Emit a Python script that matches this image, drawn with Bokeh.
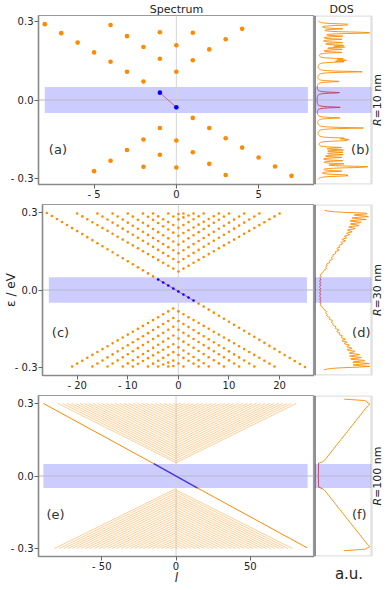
import numpy as np
from bokeh.plotting import figure
from bokeh.layouts import column, row
from bokeh.models import (Label, Span, BoxAnnotation, CustomJSTickFormatter,
                          FixedTicker, Range1d, LinearAxis)
from bokeh.embed import file_html
from bokeh.resources import INLINE

# ---------------------------------------------------------------------------
# values
# ---------------------------------------------------------------------------
gap_E = [-0.05, 0.05]            # shaded gap (eV)

# (a) R = 10 nm : every level (l, E / eV)
a_l = [-8, -7, -6, -5, -4, -3, -2, -1, 0, 1, 2, 3, 4, 5, 6, 7,
       -4, -3, -2, -1, 0, 1, 2, 3, 4,
       -1, 0, 1,
       -5, -4, -3, -2, -1, 0, 1, 2, 3,
       -2, -1, 0]
a_E = [0.290, 0.2555, 0.2195, 0.182, 0.146, 0.108, 0.071, 0.028,
       -0.028, -0.0685, -0.107, -0.146, -0.182, -0.2195, -0.254, -0.290,
       0.2865, 0.244, 0.2026, 0.1575, 0.108, 0.152, 0.1935, 0.232, 0.272,
       0.259, 0.209, 0.257,
       -0.272, -0.232, -0.191, -0.151, -0.107, -0.155, -0.200, -0.244, -0.2865,
       -0.2555, -0.209, -0.258]
a_is_edge = [1] * 16 + [0] * 24
a_band_l = [-8.0, 8.0]

# (c) R = 30 nm : branches of levels at integer l (end l, E at l = centre)
c_edge_l = [-26, 25]
c_edge_E = [0.300, -0.300]
c_up_left = [-20, -16, -13, -10, -7, -5, -2, 0]
c_up_right = [20, 16, 13, 10, 8, 5, 3, 1]
c_up_E0 = [0.072, 0.109, 0.143, 0.177, 0.211, 0.242, 0.275, 0.296]
c_up_Eend = 0.298
c_lo_left = [-21, -17, -14, -11, -9, -6, -4, -2]
c_lo_right = [19, 15, 12, 9, 6, 4, 1, -1]
c_lo_E0 = [-0.072, -0.109, -0.143, -0.177, -0.211, -0.242, -0.275, -0.296]
c_lo_Eend = -0.298
c_band_l = [-25.6, 25.4]

# (e) R = 100 nm : branches drawn as lines
e_edge_l = [-89.3, -15.0, 14.5, 88.2]
e_edge_E = [0.300, 0.051, -0.050, -0.297]
e_up_left = [-79.5, -76.3, -73.3, -70.5, -67.6, -64.7, -61.8, -58.9, -56.0,
             -53.0, -50.0, -47.0, -44.0, -41.0, -38.0, -35.0, -32.0, -29.0,
             -26.0, -23.0, -20.0, -17.0, -14.0, -11.0, -8.0, -5.0, -2.0]
e_up_right = [80.9, 77.6, 74.6, 71.7, 68.8, 65.9, 63.0, 60.0, 57.0,
              54.0, 51.0, 48.0, 45.0, 42.0, 39.0, 36.0, 33.0, 30.0,
              27.0, 24.0, 21.0, 18.0, 15.0, 12.0, 9.0, 6.0, 3.0]
e_up_E0 = [0.055, 0.063, 0.073, 0.0815, 0.090, 0.099, 0.108, 0.117, 0.126,
           0.136, 0.145, 0.154, 0.164, 0.173, 0.182, 0.1915, 0.201, 0.210,
           0.219, 0.229, 0.238, 0.247, 0.257, 0.266, 0.275, 0.2845, 0.294]
e_lo_left = [-81.9, -78.6, -75.6, -72.7, -69.8, -66.9, -64.0, -61.0, -58.0,
             -55.0, -52.0, -49.0, -46.0, -43.0, -40.0, -37.0, -34.0, -31.0,
             -28.0, -25.0, -22.0, -19.0, -16.0, -13.0, -10.0, -7.0, -4.0]
e_lo_right = [78.5, 75.3, 72.3, 69.5, 66.6, 63.7, 60.8, 57.9, 55.0,
              52.0, 49.0, 46.0, 43.0, 40.0, 37.0, 34.0, 31.0, 28.0,
              25.0, 22.0, 19.0, 16.0, 13.0, 10.0, 7.0, 4.0, 1.0]
e_lo_E0 = [-v for v in e_up_E0]
e_Eend = 0.300
e_band_l = [-89.3, 88.6]

# (f) DOS for R = 100 nm (E, a.u.)
f_E = [0.318, 0.312, 0.297, 0.290, 0.064, 0.058, 0.053, 0.0,
       -0.046, -0.052, -0.058, -0.284, -0.292, -0.303, -0.309]
f_D = [0.50, 0.88, 0.97, 0.93, 0.14, 0.10, 0.035, 0.03,
       0.035, 0.10, 0.14, 0.93, 0.97, 0.88, 0.50]

radii = ["10", "30", "100"]
panel_tags = ["(a)", "(b)", "(c)", "(d)", "(e)", "(f)"]

# ---------------------------------------------------------------------------
FONT = "DejaVu Sans"
ORANGE = "#ff8a00"
BLUE = "#0000ff"
PINK = "#d8608a"
GAPDOS = "#c0405a"
GRID = "#d4d4d4"
TXT = "#222222"
FRAME = "#9a9a9a"

XFMT = CustomJSTickFormatter(code='return tick < 0 ? "- " + Math.abs(tick) : "" + tick;')
YFMT = CustomJSTickFormatter(code='return tick < 0 ? "- " + Math.abs(tick).toFixed(1) : tick.toFixed(1);')

DOS_X = (-0.04, 1.0)      # DOS box
DOS_XR = (-0.04, 1.219)   # frame incl. room for the R label
W_SPEC, W_DOS = 314, 69
LEFT = 38


def branch(left, right, centre, e_end, e_min):
    ls, es = [], []
    for L, R, E0 in zip(left, right, e_min):
        xs, ys = [L, centre, R], [e_end, E0, e_end]
        if R == centre:
            xs, ys = xs[:2], ys[:2]
        if L == centre:
            xs, ys = xs[1:], ys[1:]
        li = np.arange(L, R + 1)
        ls.extend(li.tolist())
        es.extend(np.interp(li, xs, ys).tolist())
    return ls, es


def style_title(p, text):
    p.title.text = text
    p.title.align = "center"
    p.title.text_font = FONT
    p.title.text_font_size = "11px"
    p.title.text_font_style = "normal"
    p.title.text_color = TXT
    p.title.standoff = 0
    p.title.offset = 0


def spec_fig(xr, yr, h, bt, bb, xticks, band_l, title=None):
    p = figure(width=W_SPEC, height=h, x_range=Range1d(*xr), y_range=Range1d(*yr),
               output_backend="svg", toolbar_location=None, title=title,
               min_border_left=LEFT, min_border_right=0,
               min_border_top=bt, min_border_bottom=bb)
    p.grid.visible = False
    p.outline_line_color = FRAME
    p.outline_line_width = 1.2
    for ax in (p.xaxis[0], p.yaxis[0]):
        ax.axis_line_color = "#8a8a8a"
        ax.axis_line_width = 1.5
        ax.major_tick_line_color = "#666666"
        ax.major_tick_out = 4
        ax.major_tick_in = 0
        ax.minor_tick_line_color = None
        ax.major_label_text_font = FONT
        ax.major_label_text_font_size = "10px"
        ax.major_label_text_color = TXT
        ax.major_label_standoff = 1
        ax.axis_label_text_font = FONT
        ax.axis_label_text_color = TXT
    p.xaxis.major_label_standoff = 0
    p.xaxis.ticker = FixedTicker(ticks=xticks)
    p.xaxis.formatter = XFMT
    p.yaxis.ticker = FixedTicker(ticks=[-0.3, 0.0, 0.3])
    p.yaxis.formatter = YFMT
    p.add_layout(BoxAnnotation(left=band_l[0], right=band_l[1], bottom=gap_E[0], top=gap_E[1],
                               fill_color=BLUE, fill_alpha=0.2, line_color=None, level="underlay"))
    p.add_layout(Span(location=0, dimension="height", line_color=GRID, line_width=1, level="underlay"))
    p.add_layout(Span(location=0, dimension="width", line_color="#b8b8c8", line_width=1, level="underlay"))
    return p


def dos_fig(yr, h, bt, bb, radius, title=None):
    p = figure(width=W_DOS, height=h, x_range=Range1d(*DOS_XR), y_range=Range1d(*yr),
               output_backend="svg", toolbar_location=None, title=title,
               x_axis_location=None, y_axis_location=None,
               min_border_left=0, min_border_right=0,
               min_border_top=bt, min_border_bottom=bb)
    p.grid.visible = False
    p.outline_line_color = None
    p.add_layout(BoxAnnotation(left=DOS_X[0], right=DOS_X[1], bottom=gap_E[0], top=gap_E[1],
                               fill_color=BLUE, fill_alpha=0.2, line_color=None, level="underlay"))
    p.segment(x0=[DOS_X[0]], y0=[0], x1=[DOS_X[1]], y1=[0], line_color="#b8b8c8", line_width=1)
    p.add_layout(BoxAnnotation(left=DOS_X[0], right=DOS_X[1], fill_color=None,
                               line_color=FRAME, line_width=2.4))
    p.add_layout(Span(location=DOS_X[0], dimension="height", line_color="#333333", line_width=2.0))
    # R label, reading upwards: italic "R" then "=.. nm"
    rest = "=" + radius + " nm"
    w_rest = 0.838 + 0.636 * len(radius) + 0.318 + 0.634 + 0.974
    w_R = 0.684
    off = (-(w_R + w_rest) / 2 + w_R) * 11
    xl = 1.115
    p.add_layout(Label(x=xl, y=0, y_offset=off, text="R", angle=np.pi / 2,
                       text_font=FONT, text_font_size="11px", text_font_style="italic",
                       text_align="right", text_baseline="middle", text_color=TXT))
    p.add_layout(Label(x=xl, y=0, y_offset=off, text=rest, angle=np.pi / 2,
                       text_font=FONT, text_font_size="11px",
                       text_align="left", text_baseline="middle", text_color=TXT))
    return p


def draw_dos(p, E, D):
    E = np.asarray(E)
    D = np.asarray(D)
    lo = E <= gap_E[0] + 1e-9
    hi = E >= gap_E[1] - 1e-9
    mid = (E >= gap_E[0] - 0.003) & (E <= gap_E[1] + 0.003)
    p.line(D[lo], E[lo], line_color=ORANGE, line_width=0.9)
    p.line(D[hi], E[hi], line_color=ORANGE, line_width=0.9)
    p.line(D[mid], E[mid], line_color=GAPDOS, line_width=0.9)


def lorentz(levels, grid, gamma):
    lv = np.asarray(levels)[:, None]
    d = (gamma / np.pi / ((grid[None, :] - lv) ** 2 + gamma ** 2)).sum(axis=0)
    return d / d.max() * 0.97


def tag(p, text, x, y):
    p.add_layout(Label(x=x, y=y, text=text, text_font=FONT, text_font_size="13px",
                       text_color="#333333", text_align="center", text_baseline="middle"))


# ---------------------------------------------------------------------------
H1, H2, H3 = 204, 191, 192
# row 1 : R = 10 nm
ya = (-0.323, 0.323)
pa = spec_fig((-8.38, 8.40), ya, H1, 13, 20, [-5, 0, 5], a_band_l, title="Spectrum")
style_title(pa, "Spectrum")
a_l_arr = np.array(a_l, float)
a_E_arr = np.array(a_E)
a_edge = np.array(a_is_edge, bool)
ingap = np.abs(a_E_arr) < gap_E[1]
sel = a_edge & ingap
pa.line(a_l_arr[sel], a_E_arr[sel], line_color=PINK, line_width=1)
pa.scatter(a_l_arr[~ingap], a_E_arr[~ingap], size=4.6, color=ORANGE, line_color=None)
pa.scatter(a_l_arr[ingap], a_E_arr[ingap], size=4.6, color=BLUE, line_color=None)
tag(pa, panel_tags[0], -7.2, -0.19)

pb = dos_fig(ya, H1, 13, 20, radii[0], title="DOS")
style_title(pb, "DOS")
pb.title.align = "left"
pb.title.offset = 15
gb = np.arange(-0.304, 0.3041, 0.0012)
draw_dos(pb, gb, lorentz(a_E, gb, 0.0022))
tag(pb, panel_tags[1], 0.796, -0.19)

# row 2 : R = 30 nm
yc = (-0.333, 0.333)
pc = spec_fig((-26.85, 26.9), yc, H2, 0, 20, [-20, -10, 0, 10, 20], c_band_l)
pc.yaxis.axis_label = "\u03b5 / eV"
pc.yaxis.axis_label_text_font_size = "12px"
pc.yaxis.axis_label_text_font_style = "normal"
try:
    pc.yaxis.axis_label_standoff = -6
except Exception:
    pc.yaxis.axis_label_standoff = 0
el = np.arange(c_edge_l[0], c_edge_l[1] + 1)
ee = np.interp(el, c_edge_l, c_edge_E)
ul, ue = branch(c_up_left, c_up_right, 0, c_up_Eend, c_up_E0)
ll, le = branch(c_lo_left, c_lo_right, -1, c_lo_Eend, c_lo_E0)
cl = np.concatenate([el, ul, ll]).astype(float)
ce = np.concatenate([ee, ue, le])
cin = np.abs(ce) < gap_E[1]
egap = np.abs(ee) < gap_E[1]
pc.line(el[egap], ee[egap], line_color=PINK, line_width=1)
pc.scatter(cl[~cin], ce[~cin], size=2.6, color=ORANGE, line_color=None)
pc.scatter(cl[cin], ce[cin], size=2.6, color=BLUE, line_color=None)
tag(pc, panel_tags[2], -23.3, -0.167)

pd_ = dos_fig(yc, H2, 0, 20, radii[1])
gd = np.arange(-0.311, 0.3111, 0.0027)
draw_dos(pd_, gd, lorentz(ce, gd, 0.0042))
tag(pd_, panel_tags[3], 0.814, -0.167)

# row 3 : R = 100 nm
ye = (-0.333, 0.333)
pe = spec_fig((-92.6, 93.2), ye, H3, 0, 26, [-50, 0, 50], e_band_l)
pe.xaxis.axis_label = "l"
pe.xaxis.axis_label_text_font_size = "12px"
pe.xaxis.axis_label_text_font_style = "italic"
try:
    pe.xaxis.axis_label_standoff = -4
except Exception:
    pe.xaxis.axis_label_standoff = 0
xs_u = [[L, 0, R] for L, R in zip(e_up_left, e_up_right)]
ys_u = [[e_Eend, E0, e_Eend] for E0 in e_up_E0]
xs_l = [[L, -1, R] for L, R in zip(e_lo_left, e_lo_right)]
ys_l = [[-e_Eend, E0, -e_Eend] for E0 in e_lo_E0]
pe.multi_line(xs_u + xs_l, ys_u + ys_l, line_color=ORANGE, line_width=0.55, line_alpha=0.75)
pe.line(e_edge_l[0:2], e_edge_E[0:2], line_color=ORANGE, line_width=1.0)
pe.line(e_edge_l[2:4], e_edge_E[2:4], line_color=ORANGE, line_width=1.0)
pe.line(e_edge_l[1:3], e_edge_E[1:3], line_color="#4a2fd8", line_width=1.3)
tag(pe, panel_tags[4], -81.1, -0.159)

pf = dos_fig(ye, H3, 0, 26, radii[2])
fx = LinearAxis(ticker=FixedTicker(ticks=[]), axis_label="a.u.", axis_line_color=None,
                major_tick_line_color=None, minor_tick_line_color=None,
                major_label_standoff=0, axis_label_standoff=8, axis_label_text_font=FONT,
                axis_label_text_font_size="15px", axis_label_text_font_style="normal",
                axis_label_text_color=TXT)
pf.add_layout(fx, "below")
draw_dos(pf, f_E, f_D)
tag(pf, panel_tags[5], 0.777, -0.158)

layout = column(row(pa, pb), row(pc, pd_), row(pe, pf))
open("out.html", "w").write(file_html(layout, INLINE))
